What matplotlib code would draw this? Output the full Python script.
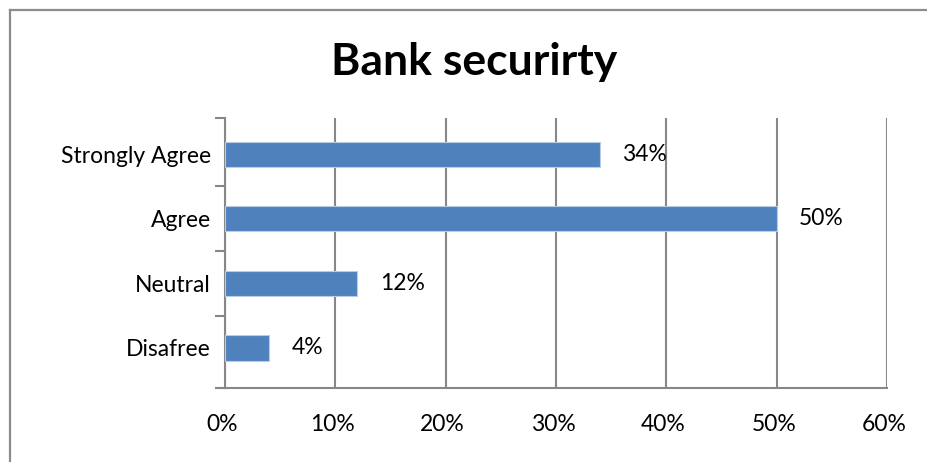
import matplotlib
matplotlib.use("Agg")
import matplotlib.pyplot as plt
import matplotlib.transforms as mtransforms
from matplotlib.lines import Line2D

categories = ["Strongly Agree", "Agree", "Neutral", "Disafree"]
values = [34, 50, 12, 4]
x_ticks = [0, 10, 20, 30, 40, 50, 60]
x_tick_labels = ["0%", "10%", "20%", "30%", "40%", "50%", "60%"]
title = "Bank securirty"

plt.rcParams["font.family"] = ["Lato", "DejaVu Sans"]
grey = "#878787"
bar_color = "#4F81BD"
label_size = 16.5

fig = plt.figure(figsize=(9.27, 4.62), dpi=100)
fig.patch.set_facecolor("white")

ax = fig.add_axes([225 / 927, 1 - 388 / 462, (887 - 225) / 927, (388 - 118) / 462])

# categories listed top to bottom
ypos = list(range(len(categories)))[::-1]
ax.barh(ypos, values, height=0.39, color=bar_color, edgecolor="#B9CDE5", linewidth=0.8, zorder=3)

for y, v in zip(ypos, values):
    ax.annotate(f"{v}%", xy=(v, y), xytext=(16, 0), textcoords="offset points",
                ha="left", va="center", fontsize=label_size, color="#000000")

ax.set_xlim(0, 60)
y_low, y_high = -0.62, len(categories) - 0.44
ax.set_ylim(y_low, y_high)
ax.set_xticks(x_ticks)
ax.set_xticklabels(x_tick_labels, fontsize=label_size)
ax.tick_params(axis="x", length=0, pad=19)
offset = mtransforms.ScaledTranslation(-3 / 100, 0, fig.dpi_scale_trans)
for lbl in ax.get_xticklabels():
    lbl.set_transform(lbl.get_transform() + offset)

ax.set_yticks(ypos)
ax.set_yticklabels(categories, fontsize=label_size)
ax.set_yticks([y_low] + [i + 0.5 for i in range(len(categories) - 1)] + [y_high], minor=True)
ax.tick_params(axis="y", which="major", length=0, pad=10)
ax.tick_params(axis="y", which="minor", length=7, width=1.5, color=grey, direction="out")

ax.grid(axis="x", color=grey, linewidth=1.5, zorder=0)
ax.set_axisbelow(True)
for side in ("top", "right"):
    ax.spines[side].set_visible(False)
for side in ("left", "bottom"):
    ax.spines[side].set_color(grey)
    ax.spines[side].set_linewidth(1.5)
ax.spines["bottom"].set_bounds(-0.8, 60)

fig.text(474 / 927, 1 - 62 / 462, title, ha="center", va="center",
         fontsize=32, fontweight="bold", color="#000000")

# chart-area frame (top and left edges)
fig.add_artist(Line2D([10 / 927, 1.0], [1 - 10 / 462, 1 - 10 / 462],
                      transform=fig.transFigure, color="#8c8c8c", linewidth=1.6))
fig.add_artist(Line2D([10 / 927, 10 / 927], [0.0, 1 - 10 / 462],
                      transform=fig.transFigure, color="#8c8c8c", linewidth=1.6))

fig.savefig("out.png", dpi=100, facecolor="white")
